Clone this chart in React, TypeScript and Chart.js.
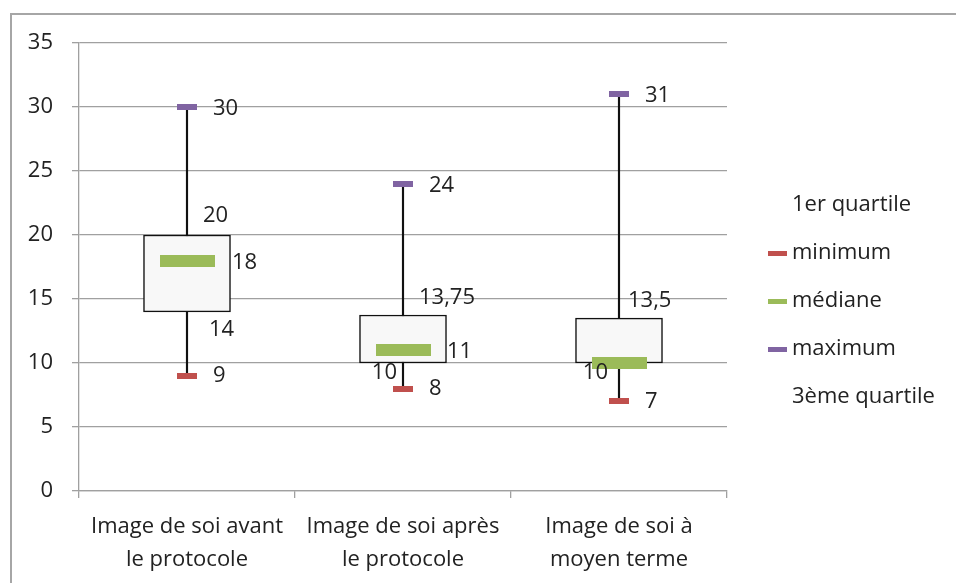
import React, { useEffect, useRef } from 'react';
import { Chart, registerables } from 'chart.js';

Chart.register(...registerables);

// ---- data ----
const categories: string[][] = [
  ['Image de soi avant', 'le protocole'],
  ['Image de soi après', 'le protocole'],
  ['Image de soi à', 'moyen terme'],
];
const premierQuartile = [14, 10, 10];
const minimum = [9, 8, 7];
const mediane = [18, 11, 10];
const maximum = [30, 24, 31];
const troisiemeQuartile = [20, 13.75, 13.5];
const legendLabels = ['1er quartile', 'minimum', 'médiane', 'maximum', '3ème quartile'];
const yMin = 0;
const yMax = 35;
const yStep = 5;

// ---- style ----
const FONT = '"Open Sans", "DejaVu Sans", sans-serif';
const TEXT = '#222222';
const GRID = '#a0a0a0';
const RED = '#C0504D';
const GREEN = '#9BBB59';
const PURPLE = '#8064A2';

const fmt = (v: number) => String(v).replace('.', ',');

function makeMarker(color: string | null, w: number, h: number) {
  const c = document.createElement('canvas');
  c.width = w;
  c.height = h;
  if (color) {
    const ctx = c.getContext('2d')!;
    ctx.fillStyle = color;
    ctx.fillRect(0, 0, w, h);
  }
  return c;
}

const framePlugin = {
  id: 'frame',
  beforeDraw(chart: any) {
    const { ctx, width, height } = chart;
    ctx.save();
    ctx.strokeStyle = '#a6a6a6';
    ctx.lineWidth = 2;
    ctx.beginPath();
    ctx.moveTo(11, height + 2);
    ctx.lineTo(11, 14);
    ctx.lineTo(width + 2, 14);
    ctx.stroke();
    ctx.restore();
  },
};

const labelPlugin = {
  id: 'valueLabels',
  afterDatasetsDraw(chart: any) {
    const ctx = chart.ctx;
    ctx.save();
    ctx.font = `22px ${FONT}`;
    ctx.fillStyle = TEXT;
    ctx.textBaseline = 'middle';
    chart.data.datasets.forEach((ds: any, di: number) => {
      const spec = ds.labelSpec;
      if (!spec) return;
      const meta = chart.getDatasetMeta(di);
      meta.data.forEach((el: any, i: number) => {
        const o = spec[i];
        if (!o) return;
        ctx.textAlign = o.align;
        ctx.fillText(fmt(ds.data[i]), el.x + o.dx, el.y + o.dy);
      });
    });
    ctx.restore();
  },
};

const legendPlugin = {
  id: 'customLegend',
  afterDraw(chart: any) {
    const ctx = chart.ctx;
    const area = chart.chartArea;
    const items = chart.data.datasets.filter((d: any) => d.legendIndex !== undefined)
      .sort((a: any, b: any) => a.legendIndex - b.legendIndex);
    ctx.save();
    ctx.font = `22px ${FONT}`;
    ctx.fillStyle = TEXT;
    ctx.textBaseline = 'middle';
    ctx.textAlign = 'left';
    const x0 = area.right + 41;
    const y0 = area.top + 162;
    items.forEach((d: any, i: number) => {
      const y = y0 + i * 48;
      if (d.legendMarker) {
        ctx.drawImage(d.legendMarker, x0, Math.round(y - d.legendMarker.height / 2));
      }
      ctx.fillText(d.label, x0 + 24, y);
    });
    ctx.restore();
  },
};

export default function App() {
  const ref = useRef<HTMLCanvasElement | null>(null);

  useEffect(() => {
    document.body.style.margin = '0';
    const canvas = ref.current!;
    const medMarker = makeMarker(GREEN, 55, 12);
    const minMarker = makeMarker(RED, 20, 6);
    const maxMarker = makeMarker(PURPLE, 20, 6);
    const legRed = makeMarker(RED, 19, 5);
    const legGreen = makeMarker(GREEN, 19, 5);
    const legPurple = makeMarker(PURPLE, 19, 5);

    const pointBase = { type: 'line', showLine: false, pointRadius: 3, pointHoverRadius: 3 };

    const chart = new Chart(canvas, {
      type: 'bar',
      data: {
        labels: categories,
        datasets: [
          {
            ...pointBase,
            label: legendLabels[2],
            data: mediane,
            pointStyle: medMarker,
            order: 0,
            legendIndex: 2,
            legendMarker: legGreen,
            labelSpec: [
              { dx: 45, dy: 2, align: 'left' },
              { dx: 44, dy: 2, align: 'left' },
              null,
            ],
          } as any,
          {
            ...pointBase,
            label: legendLabels[1],
            data: minimum,
            pointStyle: minMarker,
            order: 0,
            legendIndex: 1,
            legendMarker: legRed,
            labelSpec: [0, 1, 2].map(() => ({ dx: 26, dy: 0, align: 'left' })),
          } as any,
          {
            ...pointBase,
            label: legendLabels[3],
            data: maximum,
            pointStyle: maxMarker,
            order: 0,
            legendIndex: 3,
            legendMarker: legPurple,
            labelSpec: [0, 1, 2].map(() => ({ dx: 26, dy: 2, align: 'left' })),
          } as any,
          {
            type: 'line',
            showLine: false,
            pointRadius: 0,
            label: legendLabels[0],
            data: premierQuartile,
            order: 0,
            legendIndex: 0,
            labelSpec: [
              { dx: 22, dy: 18, align: 'left' },
              { dx: -6, dy: 10, align: 'right' },
              { dx: -11, dy: 10, align: 'right' },
            ],
          } as any,
          {
            type: 'line',
            showLine: false,
            pointRadius: 0,
            label: legendLabels[4],
            data: troisiemeQuartile,
            order: 0,
            legendIndex: 4,
            labelSpec: [
              { dx: 16, dy: -19, align: 'left' },
              { dx: 16, dy: -17, align: 'left' },
              { dx: 9, dy: -17, align: 'left' },
            ],
          } as any,
          {
            type: 'bar',
            label: 'box',
            data: premierQuartile.map((v, i) => [v, troisiemeQuartile[i]]),
            backgroundColor: '#f8f8f8',
            borderColor: '#111111',
            borderWidth: 1.5,
            borderSkipped: false,
            barThickness: 87,
            grouped: false,
            order: 1,
          } as any,
          {
            type: 'bar',
            label: 'whisker',
            data: minimum.map((v, i) => [v, maximum[i]]),
            backgroundColor: '#111111',
            borderWidth: 0,
            barThickness: 1.5,
            grouped: false,
            order: 2,
          } as any,
        ],
      },
      options: {
        responsive: false,
        animation: false,
        events: [],
        layout: { padding: { top: 43, right: 229, bottom: 0, left: 0 } },
        plugins: {
          legend: { display: false },
          tooltip: { enabled: false },
        },
        scales: {
          x: {
            offset: true,
            grid: {
              offset: true,
              drawOnChartArea: false,
              drawTicks: true,
              tickLength: 7,
              color: GRID,
              lineWidth: 1.3,
            },
            border: { color: GRID, width: 1.3 },
            ticks: {
              color: TEXT,
              padding: 12,
              maxRotation: 0,
              autoSkip: false,
              font: { family: FONT, size: 22, lineHeight: 1.5 },
            },
            afterFit: (s: any) => { s.height = 92; },
          },
          y: {
            min: yMin,
            max: yMax,
            grid: { color: GRID, lineWidth: 1.3, tickLength: 7 },
            border: { color: GRID, width: 1.3 },
            ticks: {
              stepSize: yStep,
              color: TEXT,
              padding: 19,
              font: { family: FONT, size: 22 },
            },
            afterFit: (s: any) => { s.width = 79; },
          },
        },
      },
      plugins: [framePlugin, labelPlugin, legendPlugin],
    } as any);

    return () => chart.destroy();
  }, []);

  return (
    <canvas
      ref={ref}
      width={956}
      height={583}
      style={{ display: 'block', width: 956, height: 583 }}
    />
  );
}
